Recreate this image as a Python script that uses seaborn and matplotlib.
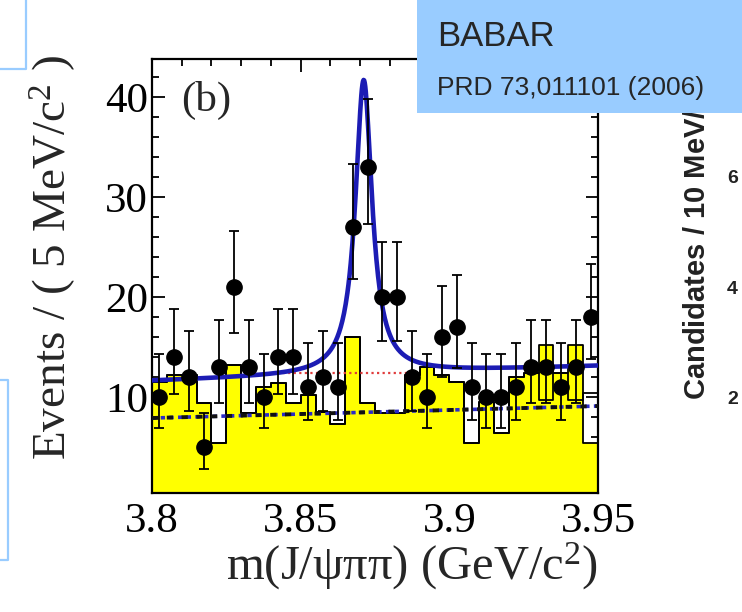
import numpy as np
import pandas as pd
import matplotlib
matplotlib.use("Agg")
import matplotlib.pyplot as plt
import seaborn as sns
from matplotlib.lines import Line2D
from matplotlib.patches import Rectangle
from matplotlib.ticker import MultipleLocator

# m(J/psi pi pi) binning, 5 MeV bins
bin_edges = np.linspace(3.80, 3.95, 31)
bin_centers = 0.5 * (bin_edges[:-1] + bin_edges[1:])

# data points (events per bin) and asymmetric poisson errors
counts = [10, 14, 12, 5, 13, 21, 13, 10, 14, 14, 11, 12, 11, 27, 33,
          20, 20, 12, 10, 16, 17, 11, 10, 10, 11, 13, 13, 11, 13, 18]
err_lo = [3.1, 3.7, 3.4, 2.2, 3.6, 4.6, 3.6, 3.1, 3.7, 3.7, 3.3, 3.4, 3.3, 5.2, 5.7,
          4.4, 4.4, 3.4, 3.1, 4.0, 4.1, 3.3, 3.1, 3.1, 3.3, 3.6, 3.6, 3.3, 3.6, 4.2]
err_hi = [4.3, 4.8, 4.6, 3.4, 4.7, 5.6, 4.7, 4.3, 4.8, 4.8, 4.4, 4.6, 4.4, 6.3, 6.8,
          5.5, 5.5, 4.6, 4.3, 5.1, 5.2, 4.4, 4.3, 4.3, 4.4, 4.7, 4.7, 4.4, 4.7, 5.3]

# yellow shaded histogram and black outline histogram
shaded_counts = [11.5, 12.2, 12.2, 9.4, 5.4, 13.2, 8.4, 11.0, 11.4, 9.4, 10.2, 8.5, 7.3, 16.0, 9.4,
                 8.4, 8.4, 12.2, 13.0, 12.2, 11.5, 5.4, 9.5, 6.4, 12.0, 12.4, 15.2, 12.4, 15.2, 5.4]
outline_counts = [11.5, 12.2, 12.2, 9.4, 5.4, 13.2, 8.4, 11.0, 11.4, 9.4, 10.2, 8.5, 7.3, 16.0, 9.4,
                  8.4, 8.4, 12.2, 13.0, 12.2, 11.5, 5.4, 9.5, 6.4, 12.0, 12.4, 9.7, 12.4, 9.7, 10.4]

# fit: breit-wigner peak on linear background (parameters)
peak_mass = 3.8712
peak_fwhm = 0.0068
peak_height = 29.4
bkg_at_start = 11.6
bkg_slope = 10.0

# background components
dash_x = [3.80, 3.95]
dash_y = [7.9, 9.1]
red_x = [3.842, 3.889]
red_y = [12.4, 12.4]

hist_df = pd.DataFrame({'m': bin_centers, 'shaded': shaded_counts, 'outline': outline_counts})

sns.set_theme(style="ticks")
plt.rcParams['font.family'] = ['Liberation Serif', 'DejaVu Serif']
plt.rcParams['mathtext.fontset'] = 'custom'
plt.rcParams['mathtext.rm'] = 'Liberation Serif'
plt.rcParams['mathtext.it'] = 'Liberation Serif:italic'
plt.rcParams['mathtext.bf'] = 'Liberation Sans:bold'

fig = plt.figure(figsize=(7.42, 6.12), dpi=100)
fig.patch.set_facecolor('white')
ax = fig.add_axes([0.2049, 0.1944, 0.601, 0.7092])

sns.histplot(data=hist_df, x='m', weights='shaded', bins=list(bin_edges), element='step', fill=True,
             color='#ffff00', alpha=1, edgecolor='black', linewidth=1.3, ax=ax, zorder=1)
sns.histplot(data=hist_df, x='m', weights='outline', bins=list(bin_edges), element='step', fill=False,
             color='black', linewidth=1.3, ax=ax, zorder=2)

ax.plot(red_x, red_y, color='#e03c3c', lw=1.6, ls=(0, (1, 1.5)), zorder=3)
ax.plot(dash_x, dash_y, color='#2a2ac8', lw=2.6, ls=(0, (1.2, 1.2)), zorder=3)
ax.plot(dash_x, dash_y, color='#111111', lw=2.8, ls=(0, (1.6, 2.2)), zorder=3)

m = np.linspace(3.80, 3.95, 800)
hw = peak_fwhm / 2
fit = bkg_at_start + bkg_slope * (m - 3.80) + peak_height * hw**2 / ((m - peak_mass)**2 + hw**2)
sns.lineplot(x=m, y=fit, color='#1c1cb4', lw=3.3, estimator=None, ax=ax, zorder=4)

ax.errorbar(bin_centers, counts, yerr=[err_lo, err_hi], fmt='o', color='black', ms=11,
            capsize=3.5, elinewidth=1.3, capthick=1.3, zorder=6)

ax.set_xlim(3.80, 3.95)
ax.set_ylim(0.4, 43.8)
ax.set_xticks([3.80, 3.85, 3.90, 3.95])
ax.set_xticklabels(['3.8', '3.85', '3.9', '3.95'])
ax.set_yticks([10, 20, 30, 40])
ax.xaxis.set_minor_locator(MultipleLocator(0.01))
ax.yaxis.set_minor_locator(MultipleLocator(2))
ax.tick_params(which='both', direction='in', top=True, right=True, width=1.3, colors='black')
ax.tick_params(which='major', length=9)
ax.tick_params(which='minor', length=5)
ax.tick_params(axis='x', labelsize=31, pad=7)
ax.tick_params(axis='y', labelsize=31, pad=3)
for s in ax.spines.values():
    s.set_linewidth(1.6)
    s.set_color('black')

ax.set_xlabel('m(J/ψππ) (GeV/c$^2$)', fontsize=35, ha='right')
ax.xaxis.set_label_coords(1.0, -0.11)
ax.set_ylabel('Events / ( 5 MeV/c$^2$ )', fontsize=34, ha='right')
ax.yaxis.set_label_coords(-0.165, 1.01)
ax.text(0.065, 0.905, '(b)', transform=ax.transAxes, fontsize=31, va='center', ha='left')

# slide decorations
light_blue = '#99ccff'
fig.patches.append(Rectangle((417 / 742, 1 - 113 / 612), 1 - 417 / 742, 113 / 612,
                             transform=fig.transFigure, facecolor=light_blue, edgecolor='none', zorder=10))
fig.text(437 / 742, 1 - 36 / 612, 'BABAR', family='Liberation Sans', fontsize=25,
         va='center', ha='left', zorder=11)
fig.text(437 / 742, 1 - 88 / 612, 'PRD 73,011101 (2006)', family='Liberation Sans', fontsize=19,
         va='center', ha='left', zorder=11)

fig.lines.append(Line2D([0, 26 / 742, 26 / 742], [1 - 69 / 612, 1 - 69 / 612, 1],
                        transform=fig.transFigure, color=light_blue, lw=1.6))
fig.lines.append(Line2D([0, 8 / 742, 8 / 742, 0],
                        [1 - 380 / 612, 1 - 380 / 612, 1 - 560 / 612, 1 - 560 / 612],
                        transform=fig.transFigure, color=light_blue, lw=1.6))

# neighbouring panel peeking in on the right
fig.text(712 / 742, 1 - 400 / 612, 'Candidates / 10 MeV/c$\\mathbf{^2}$', family='Liberation Sans',
         fontweight='bold', fontsize=21, rotation=90, ha='right', va='bottom', color='#222222', zorder=5)
for lab, ypx in zip(['6', '4', '2'], [178, 290, 400]):
    fig.text(727 / 742, 1 - ypx / 612, lab, family='Liberation Sans', fontweight='bold',
             fontsize=14, ha='left', va='center', color='#222222')

fig.savefig('out.png', dpi=100)
